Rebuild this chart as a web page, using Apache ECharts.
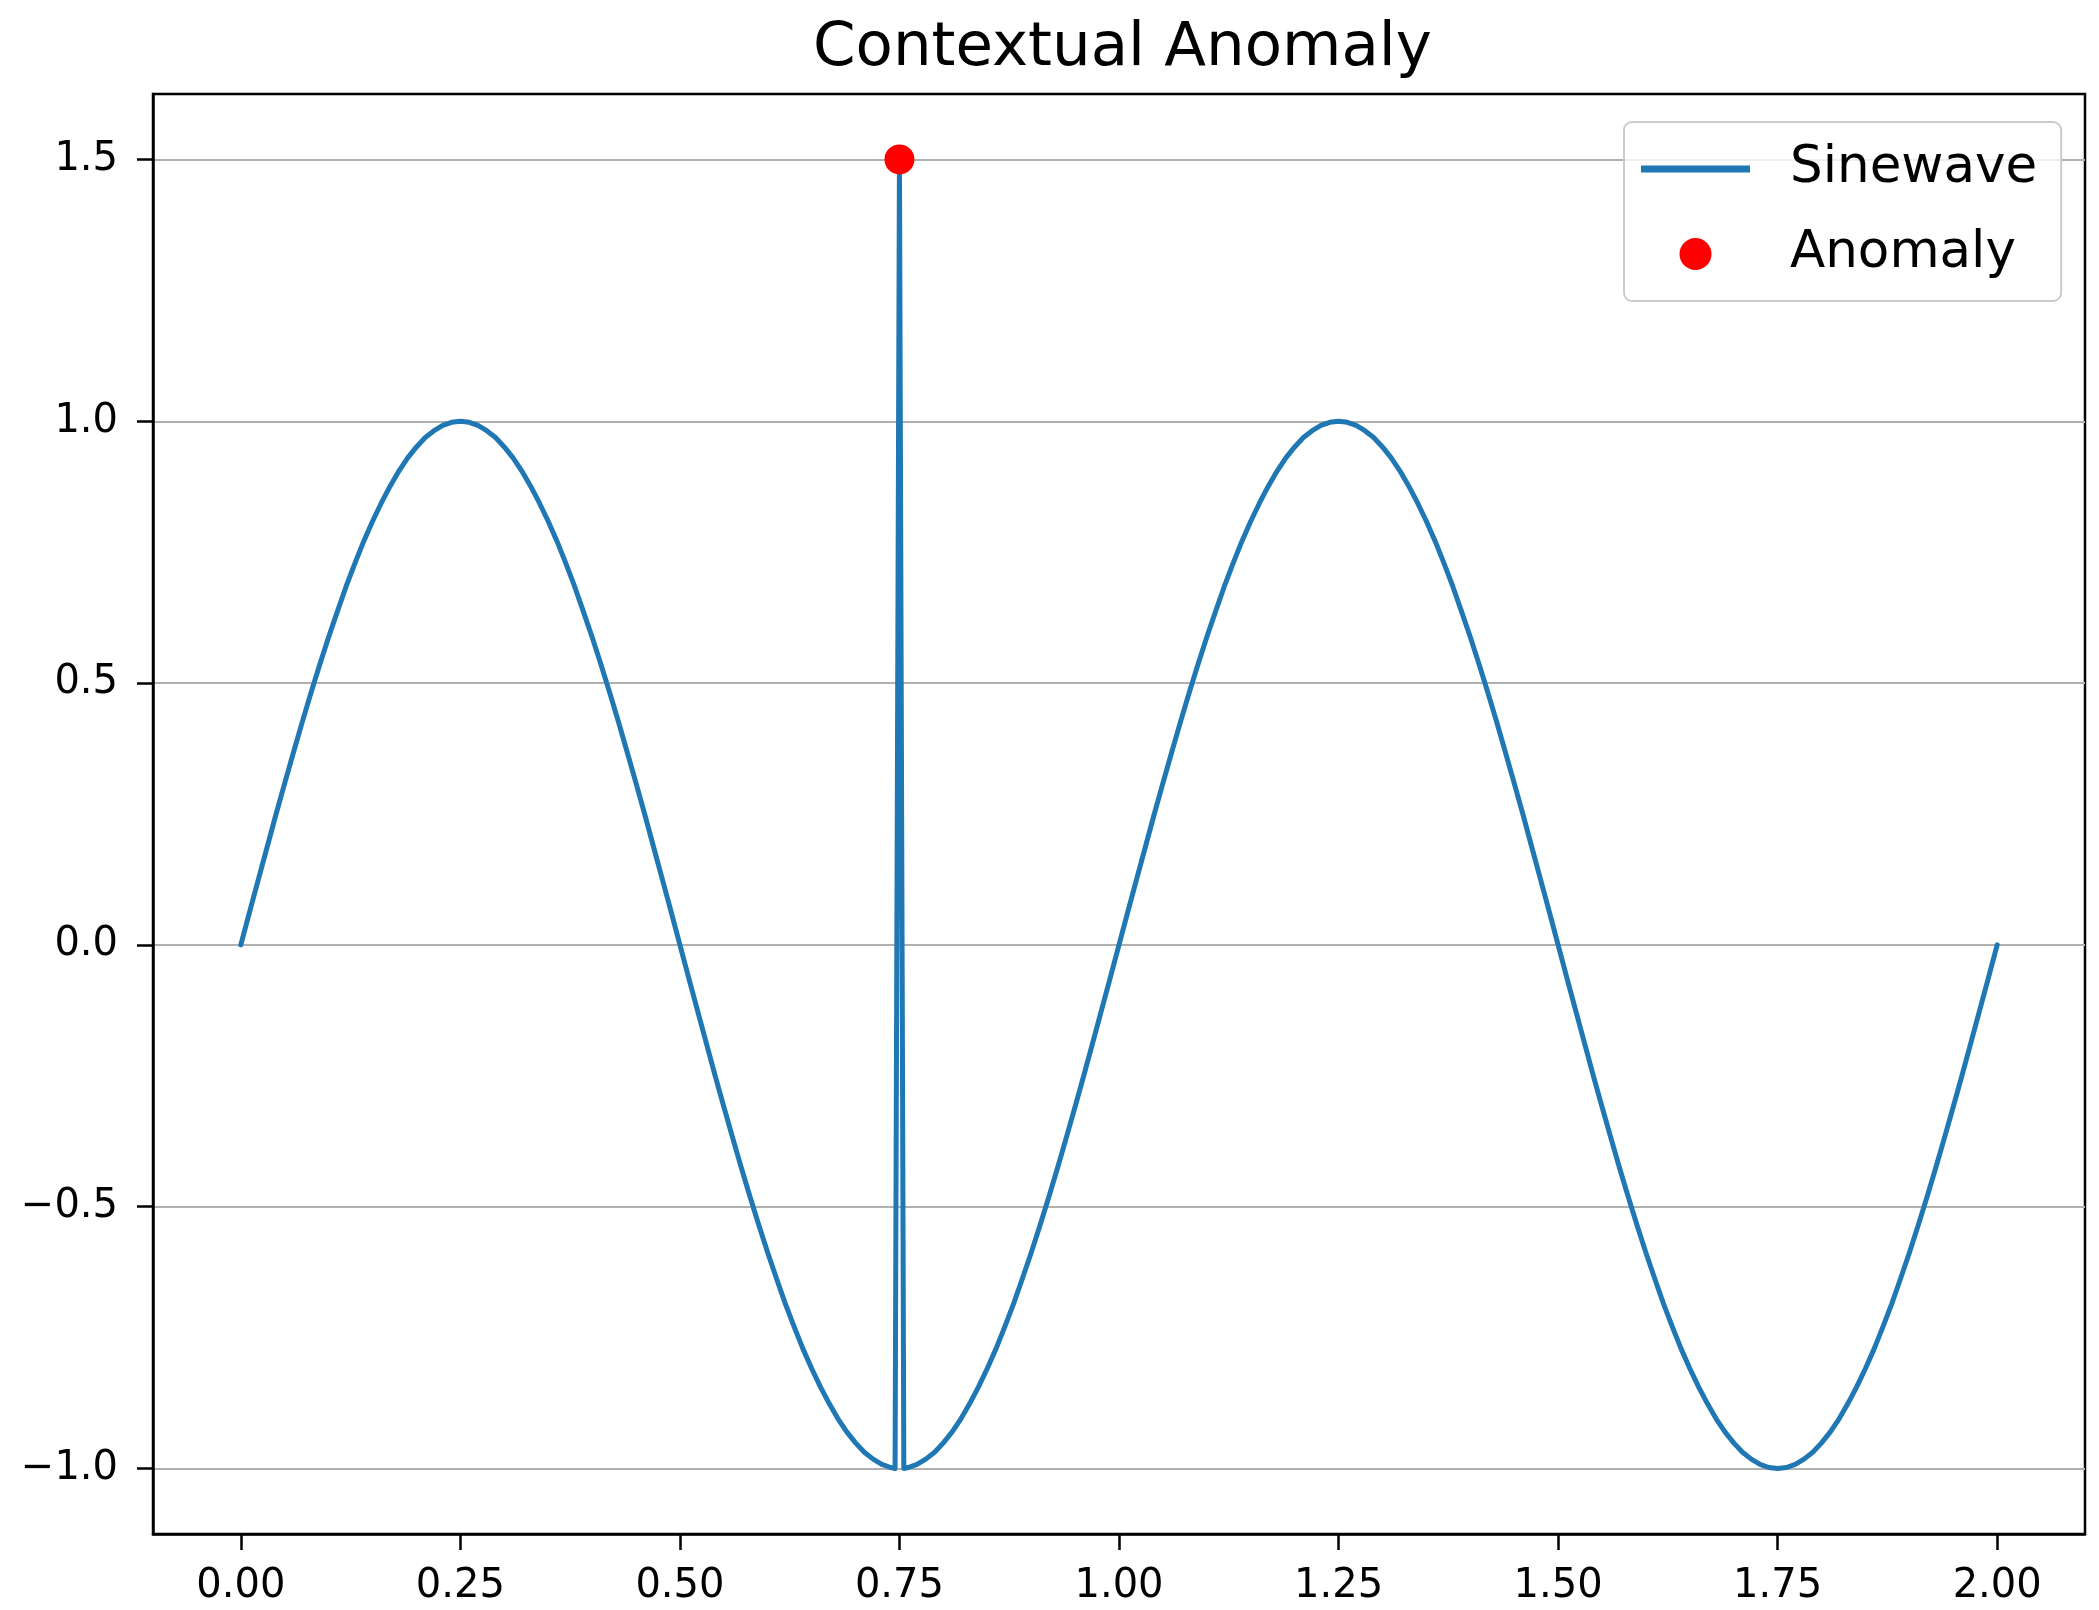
<!DOCTYPE html>
<html>
<head>
<meta charset="utf-8">
<script src="https://cdn.jsdelivr.net/npm/echarts@6/dist/echarts.min.js"></script>
<style>
html,body{margin:0;padding:0;background:#fff;}
#chart{width:2099px;height:1610px;}
</style>
</head>
<body>
<div id="chart"></div>
<script>
// ---- Data ----
const sineX = [
  0,0.01,0.02,0.03,0.04,0.05,0.06,0.07,0.08,0.09,
  0.10,0.11,0.12,0.13,0.14,0.15,0.16,0.17,0.18,0.19,
  0.20,0.21,0.22,0.23,0.24,0.25,0.26,0.27,0.28,0.29,
  0.30,0.31,0.32,0.33,0.34,0.35,0.36,0.37,0.38,0.39,
  0.40,0.41,0.42,0.43,0.44,0.45,0.46,0.47,0.48,0.49,
  0.50,0.51,0.52,0.53,0.54,0.55,0.56,0.57,0.58,0.59,
  0.60,0.61,0.62,0.63,0.64,0.65,0.66,0.67,0.68,0.69,
  0.70,0.71,0.72,0.73,0.74,0.745,0.75,0.755,0.76,0.77,0.78,0.79,
  0.80,0.81,0.82,0.83,0.84,0.85,0.86,0.87,0.88,0.89,
  0.90,0.91,0.92,0.93,0.94,0.95,0.96,0.97,0.98,0.99,
  1.00,1.01,1.02,1.03,1.04,1.05,1.06,1.07,1.08,1.09,
  1.10,1.11,1.12,1.13,1.14,1.15,1.16,1.17,1.18,1.19,
  1.20,1.21,1.22,1.23,1.24,1.25,1.26,1.27,1.28,1.29,
  1.30,1.31,1.32,1.33,1.34,1.35,1.36,1.37,1.38,1.39,
  1.40,1.41,1.42,1.43,1.44,1.45,1.46,1.47,1.48,1.49,
  1.50,1.51,1.52,1.53,1.54,1.55,1.56,1.57,1.58,1.59,
  1.60,1.61,1.62,1.63,1.64,1.65,1.66,1.67,1.68,1.69,
  1.70,1.71,1.72,1.73,1.74,1.75,1.76,1.77,1.78,1.79,
  1.80,1.81,1.82,1.83,1.84,1.85,1.86,1.87,1.88,1.89,
  1.90,1.91,1.92,1.93,1.94,1.95,1.96,1.97,1.98,1.99,
  2.00
];
const sineY = [
  0,0.063,0.125,0.187,0.249,0.309,0.368,0.426,0.482,0.536,
  0.588,0.637,0.685,0.729,0.771,0.809,0.844,0.876,0.905,0.930,
  0.951,0.969,0.982,0.992,0.998,1.000,0.998,0.992,0.982,0.969,
  0.951,0.930,0.905,0.876,0.844,0.809,0.771,0.729,0.685,0.637,
  0.588,0.536,0.482,0.426,0.368,0.309,0.249,0.187,0.125,0.063,
  0,-0.063,-0.125,-0.187,-0.249,-0.309,-0.368,-0.426,-0.482,-0.536,
  -0.588,-0.637,-0.685,-0.729,-0.771,-0.809,-0.844,-0.876,-0.905,-0.930,
  -0.951,-0.969,-0.982,-0.992,-0.998,-1.000,1.500,-1.000,-0.998,-0.992,-0.982,-0.969,
  -0.951,-0.930,-0.905,-0.876,-0.844,-0.809,-0.771,-0.729,-0.685,-0.637,
  -0.588,-0.536,-0.482,-0.426,-0.368,-0.309,-0.249,-0.187,-0.125,-0.063,
  0,0.063,0.125,0.187,0.249,0.309,0.368,0.426,0.482,0.536,
  0.588,0.637,0.685,0.729,0.771,0.809,0.844,0.876,0.905,0.930,
  0.951,0.969,0.982,0.992,0.998,1.000,0.998,0.992,0.982,0.969,
  0.951,0.930,0.905,0.876,0.844,0.809,0.771,0.729,0.685,0.637,
  0.588,0.536,0.482,0.426,0.368,0.309,0.249,0.187,0.125,0.063,
  0,-0.063,-0.125,-0.187,-0.249,-0.309,-0.368,-0.426,-0.482,-0.536,
  -0.588,-0.637,-0.685,-0.729,-0.771,-0.809,-0.844,-0.876,-0.905,-0.930,
  -0.951,-0.969,-0.982,-0.992,-0.998,-1.000,-0.998,-0.992,-0.982,-0.969,
  -0.951,-0.930,-0.905,-0.876,-0.844,-0.809,-0.771,-0.729,-0.685,-0.637,
  -0.588,-0.536,-0.482,-0.426,-0.368,-0.309,-0.249,-0.187,-0.125,-0.063,
  0
];
const anomalyX = [0.75];
const anomalyY = [1.5];
const xTickValues = [0, 0.25, 0.5, 0.75, 1.0, 1.25, 1.5, 1.75, 2.0];
const xTickLabels = ['0.00','0.25','0.50','0.75','1.00','1.25','1.50','1.75','2.00'];
const yTickValues = [-1.0, -0.5, 0.0, 0.5, 1.0, 1.5];
const yTickLabels = ['\u22121.0','\u22120.5','0.0','0.5','1.0','1.5'];
const seriesNames = ['Sinewave', 'Anomaly'];
const chartTitle = 'Contextual Anomaly';

// ---- Build ----
const sineData = sineX.map((x, i) => [x, sineY[i]]);
const anomalyData = anomalyX.map((x, i) => [x, anomalyY[i]]);
const FONT = 'DejaVu Sans';

function labelFor(values, labels) {
  return function (v) {
    for (let i = 0; i < values.length; i++) {
      if (Math.abs(values[i] - v) < 1e-9) return labels[i];
    }
    return '';
  };
}

const chart = echarts.init(document.getElementById('chart'), null, {renderer: 'canvas'});
chart.setOption({
  animation: false,
  backgroundColor: '#ffffff',
  title: {
    text: chartTitle,
    left: 808,
    top: 14,
    textStyle: {fontFamily: FONT, fontSize: 61, fontWeight: 'normal', color: '#000'}
  },
  grid: {
    left: 153, right: 14, top: 94, bottom: 76,
    show: true, borderColor: '#000', borderWidth: 2.5, backgroundColor: '#fff'
  },
  legend: {
    left: 1624, top: 122,
    orient: 'vertical',
    itemWidth: 109, itemHeight: 32, itemGap: 33,
    symbolKeepAspect: true,
    padding: [21, 24, 21, 17],
    backgroundColor: 'rgba(255,255,255,0.8)',
    borderColor: '#cccccc', borderWidth: 2, borderRadius: 8,
    textStyle: {fontFamily: FONT, fontSize: 51.5, color: '#000', padding: [0, 0, 0, 35]},
    data: [
      {name: seriesNames[0], icon: 'path://M0,0 L109,0 L109,7 L0,7 Z', itemStyle: {color: '#1f77b4'}},
      {name: seriesNames[1], icon: 'circle', itemStyle: {color: '#ff0000', opacity: 1}}
    ]
  },
  xAxis: {
    type: 'value', min: -0.1, max: 2.1,
    axisLine: {show: true, onZero: false, lineStyle: {color: '#000', width: 2.5}},
    axisTick: {show: true, inside: false, length: 16, lineStyle: {color: '#000', width: 2.5}, customValues: xTickValues},
    axisLabel: {show: true, margin: 33, fontFamily: FONT, fontSize: 40, color: '#000',
      customValues: xTickValues, formatter: labelFor(xTickValues, xTickLabels)},
    splitLine: {show: false}
  },
  yAxis: {
    type: 'value', min: -1.125, max: 1.625,
    axisLine: {show: true, onZero: false, lineStyle: {color: '#000', width: 2.5}},
    axisTick: {show: true, inside: false, length: 16, lineStyle: {color: '#000', width: 2.5}, customValues: yTickValues},
    axisLabel: {show: true, margin: 35, fontFamily: FONT, fontSize: 40, color: '#000',
      customValues: yTickValues, formatter: labelFor(yTickValues, yTickLabels)},
    splitLine: {show: true, lineStyle: {color: '#b0b0b0', width: 2}}
  },
  series: [
    {
      name: seriesNames[0], type: 'line', data: sineData,
      symbol: 'none', showSymbol: false, smooth: false,
      lineStyle: {color: '#1f77b4', width: 5, cap: 'round', join: 'round'},
      itemStyle: {color: '#1f77b4'},
      z: 2
    },
    {
      name: seriesNames[1], type: 'scatter', data: anomalyData,
      symbol: 'circle', symbolSize: 30,
      itemStyle: {color: '#ff0000', opacity: 1},
      z: 3
    }
  ]
});
</script>
</body>
</html>
